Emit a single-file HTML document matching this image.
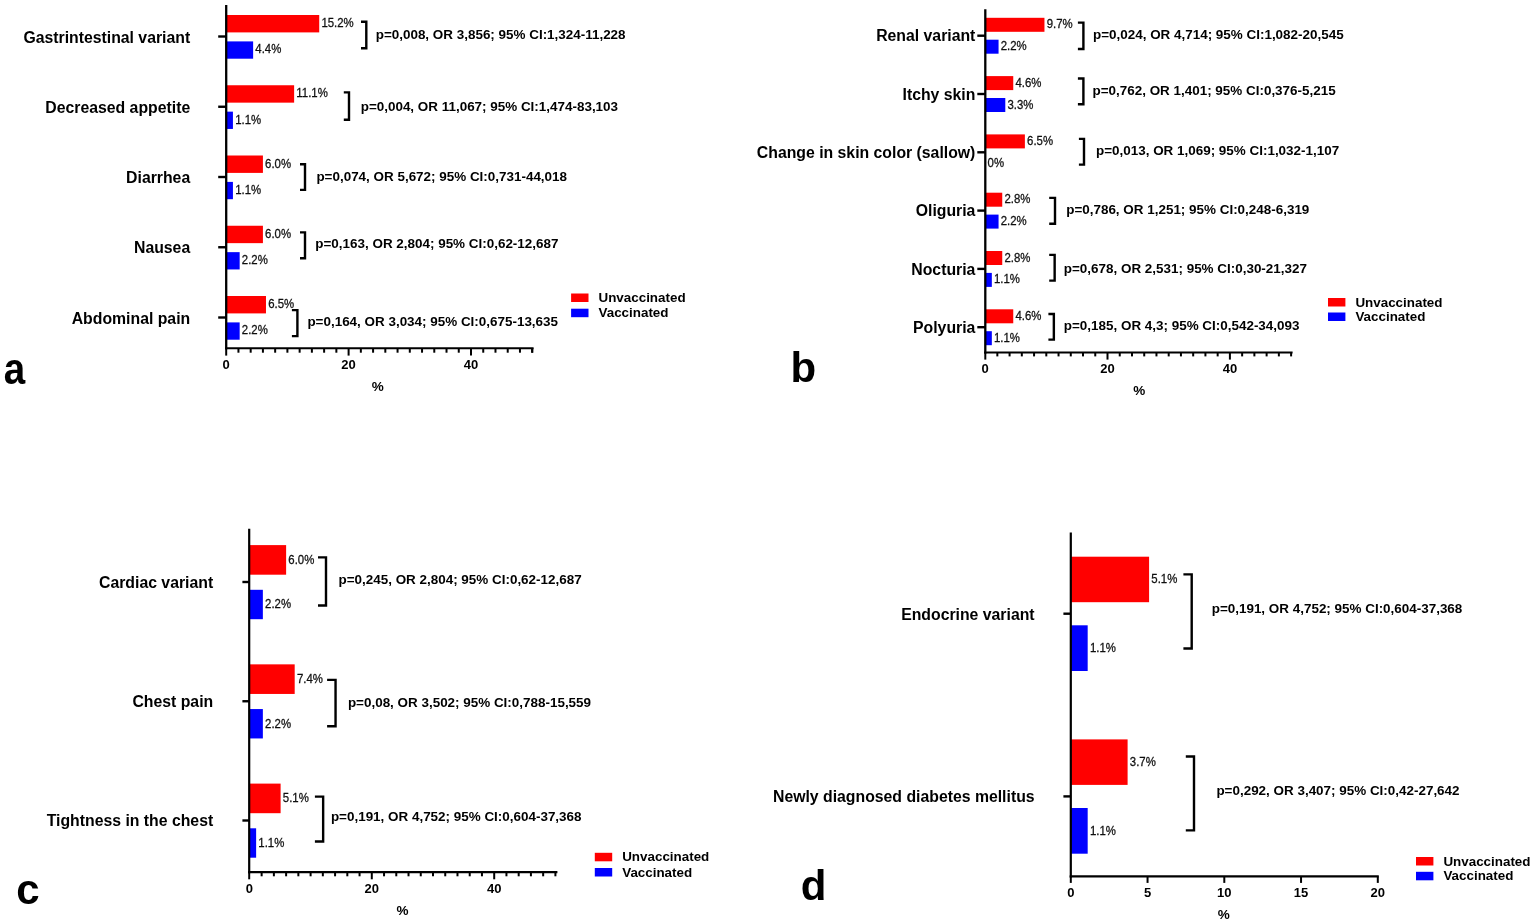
<!DOCTYPE html>
<html><head><meta charset="utf-8"><title>Figure</title>
<style>
html,body{margin:0;padding:0;background:#fff;}
svg{display:block;font-family:"Liberation Sans", Arial, sans-serif;}
</style></head><body>
<svg width="1535" height="924" viewBox="0 0 1535 924">
<rect width="1535" height="924" fill="#fff"/>
<rect x="226.20" y="15.00" width="93.02" height="17.40" fill="#ff0000"/>
<rect x="226.20" y="41.40" width="26.93" height="17.30" fill="#0000ff"/>
<text transform="translate(321.42,27.08) scale(1.0,1.04)" font-size="11.4" font-weight="normal" text-anchor="start" fill="#1a1a1a" stroke="#000" stroke-width="0.25">15.2%</text>
<text transform="translate(255.33,53.43) scale(1.0,1.04)" font-size="11.4" font-weight="normal" text-anchor="start" fill="#1a1a1a" stroke="#000" stroke-width="0.25">4.4%</text>
<text x="190.20" y="42.50" font-size="15.8" font-weight="bold" text-anchor="end" fill="#000">Gastrintestinal variant</text>
<line x1="218.20" y1="36.50" x2="226.20" y2="36.50" stroke="#000" stroke-width="2.4" stroke-linecap="butt"/>
<path d="M361.00,21.75 H366.30 V48.20 H361.00" fill="none" stroke="#000" stroke-width="2.4" stroke-linejoin="miter"/>
<text x="375.70" y="38.83" font-size="13.45" font-weight="bold" text-anchor="start" fill="#000">p=0,008, OR 3,856; 95% CI:1,324-11,228</text>
<rect x="226.20" y="85.25" width="67.93" height="17.40" fill="#ff0000"/>
<rect x="226.20" y="111.65" width="6.73" height="17.30" fill="#0000ff"/>
<text transform="translate(296.33,97.33) scale(1.0,1.04)" font-size="11.4" font-weight="normal" text-anchor="start" fill="#1a1a1a" stroke="#000" stroke-width="0.25">11.1%</text>
<text transform="translate(235.13,123.68) scale(1.0,1.04)" font-size="11.4" font-weight="normal" text-anchor="start" fill="#1a1a1a" stroke="#000" stroke-width="0.25">1.1%</text>
<text x="190.20" y="112.75" font-size="15.8" font-weight="bold" text-anchor="end" fill="#000">Decreased appetite</text>
<line x1="218.20" y1="106.75" x2="226.20" y2="106.75" stroke="#000" stroke-width="2.4" stroke-linecap="butt"/>
<path d="M343.80,92.40 H349.00 V119.70 H343.80" fill="none" stroke="#000" stroke-width="2.4" stroke-linejoin="miter"/>
<text x="360.70" y="110.83" font-size="13.45" font-weight="bold" text-anchor="start" fill="#000">p=0,004, OR 11,067; 95% CI:1,474-83,103</text>
<rect x="226.20" y="155.50" width="36.72" height="17.40" fill="#ff0000"/>
<rect x="226.20" y="181.90" width="6.73" height="17.30" fill="#0000ff"/>
<text transform="translate(265.12,167.58) scale(1.0,1.04)" font-size="11.4" font-weight="normal" text-anchor="start" fill="#1a1a1a" stroke="#000" stroke-width="0.25">6.0%</text>
<text transform="translate(235.13,193.93) scale(1.0,1.04)" font-size="11.4" font-weight="normal" text-anchor="start" fill="#1a1a1a" stroke="#000" stroke-width="0.25">1.1%</text>
<text x="190.20" y="183.00" font-size="15.8" font-weight="bold" text-anchor="end" fill="#000">Diarrhea</text>
<line x1="218.20" y1="177.00" x2="226.20" y2="177.00" stroke="#000" stroke-width="2.4" stroke-linecap="butt"/>
<path d="M300.00,164.30 H305.00 V189.90 H300.00" fill="none" stroke="#000" stroke-width="2.4" stroke-linejoin="miter"/>
<text x="316.40" y="181.03" font-size="13.45" font-weight="bold" text-anchor="start" fill="#000">p=0,074, OR 5,672; 95% CI:0,731-44,018</text>
<rect x="226.20" y="225.75" width="36.72" height="17.40" fill="#ff0000"/>
<rect x="226.20" y="252.15" width="13.46" height="17.30" fill="#0000ff"/>
<text transform="translate(265.12,237.83) scale(1.0,1.04)" font-size="11.4" font-weight="normal" text-anchor="start" fill="#1a1a1a" stroke="#000" stroke-width="0.25">6.0%</text>
<text transform="translate(241.86,264.18) scale(1.0,1.04)" font-size="11.4" font-weight="normal" text-anchor="start" fill="#1a1a1a" stroke="#000" stroke-width="0.25">2.2%</text>
<text x="190.20" y="253.25" font-size="15.8" font-weight="bold" text-anchor="end" fill="#000">Nausea</text>
<line x1="218.20" y1="247.25" x2="226.20" y2="247.25" stroke="#000" stroke-width="2.4" stroke-linecap="butt"/>
<path d="M300.00,232.40 H305.00 V258.30 H300.00" fill="none" stroke="#000" stroke-width="2.4" stroke-linejoin="miter"/>
<text x="315.30" y="248.33" font-size="13.45" font-weight="bold" text-anchor="start" fill="#000">p=0,163, OR 2,804; 95% CI:0,62-12,687</text>
<rect x="226.20" y="296.00" width="39.78" height="17.40" fill="#ff0000"/>
<rect x="226.20" y="322.40" width="13.46" height="17.30" fill="#0000ff"/>
<text transform="translate(268.18,308.08) scale(1.0,1.04)" font-size="11.4" font-weight="normal" text-anchor="start" fill="#1a1a1a" stroke="#000" stroke-width="0.25">6.5%</text>
<text transform="translate(241.86,334.43) scale(1.0,1.04)" font-size="11.4" font-weight="normal" text-anchor="start" fill="#1a1a1a" stroke="#000" stroke-width="0.25">2.2%</text>
<text x="190.20" y="323.50" font-size="15.8" font-weight="bold" text-anchor="end" fill="#000">Abdominal pain</text>
<line x1="218.20" y1="317.50" x2="226.20" y2="317.50" stroke="#000" stroke-width="2.4" stroke-linecap="butt"/>
<path d="M291.90,310.10 H297.40 V336.10 H291.90" fill="none" stroke="#000" stroke-width="2.4" stroke-linejoin="miter"/>
<text x="307.40" y="325.63" font-size="13.45" font-weight="bold" text-anchor="start" fill="#000">p=0,164, OR 3,034; 95% CI:0,675-13,635</text>
<line x1="226.20" y1="5.00" x2="226.20" y2="349.25" stroke="#000" stroke-width="2.3" stroke-linecap="butt"/>
<line x1="225.05" y1="348.20" x2="533.60" y2="348.20" stroke="#000" stroke-width="2.1" stroke-linecap="butt"/>
<line x1="226.20" y1="348.20" x2="226.20" y2="355.60" stroke="#000" stroke-width="2" stroke-linecap="butt"/>
<line x1="238.44" y1="348.20" x2="238.44" y2="352.70" stroke="#000" stroke-width="2" stroke-linecap="butt"/>
<line x1="250.68" y1="348.20" x2="250.68" y2="352.70" stroke="#000" stroke-width="2" stroke-linecap="butt"/>
<line x1="262.92" y1="348.20" x2="262.92" y2="352.70" stroke="#000" stroke-width="2" stroke-linecap="butt"/>
<line x1="275.16" y1="348.20" x2="275.16" y2="352.70" stroke="#000" stroke-width="2" stroke-linecap="butt"/>
<line x1="287.40" y1="348.20" x2="287.40" y2="352.70" stroke="#000" stroke-width="2" stroke-linecap="butt"/>
<line x1="299.64" y1="348.20" x2="299.64" y2="352.70" stroke="#000" stroke-width="2" stroke-linecap="butt"/>
<line x1="311.88" y1="348.20" x2="311.88" y2="352.70" stroke="#000" stroke-width="2" stroke-linecap="butt"/>
<line x1="324.12" y1="348.20" x2="324.12" y2="352.70" stroke="#000" stroke-width="2" stroke-linecap="butt"/>
<line x1="336.36" y1="348.20" x2="336.36" y2="352.70" stroke="#000" stroke-width="2" stroke-linecap="butt"/>
<line x1="348.60" y1="348.20" x2="348.60" y2="355.60" stroke="#000" stroke-width="2" stroke-linecap="butt"/>
<line x1="360.84" y1="348.20" x2="360.84" y2="352.70" stroke="#000" stroke-width="2" stroke-linecap="butt"/>
<line x1="373.08" y1="348.20" x2="373.08" y2="352.70" stroke="#000" stroke-width="2" stroke-linecap="butt"/>
<line x1="385.32" y1="348.20" x2="385.32" y2="352.70" stroke="#000" stroke-width="2" stroke-linecap="butt"/>
<line x1="397.56" y1="348.20" x2="397.56" y2="352.70" stroke="#000" stroke-width="2" stroke-linecap="butt"/>
<line x1="409.80" y1="348.20" x2="409.80" y2="352.70" stroke="#000" stroke-width="2" stroke-linecap="butt"/>
<line x1="422.04" y1="348.20" x2="422.04" y2="352.70" stroke="#000" stroke-width="2" stroke-linecap="butt"/>
<line x1="434.28" y1="348.20" x2="434.28" y2="352.70" stroke="#000" stroke-width="2" stroke-linecap="butt"/>
<line x1="446.52" y1="348.20" x2="446.52" y2="352.70" stroke="#000" stroke-width="2" stroke-linecap="butt"/>
<line x1="458.76" y1="348.20" x2="458.76" y2="352.70" stroke="#000" stroke-width="2" stroke-linecap="butt"/>
<line x1="471.00" y1="348.20" x2="471.00" y2="355.60" stroke="#000" stroke-width="2" stroke-linecap="butt"/>
<line x1="483.24" y1="348.20" x2="483.24" y2="352.70" stroke="#000" stroke-width="2" stroke-linecap="butt"/>
<line x1="495.48" y1="348.20" x2="495.48" y2="352.70" stroke="#000" stroke-width="2" stroke-linecap="butt"/>
<line x1="507.72" y1="348.20" x2="507.72" y2="352.70" stroke="#000" stroke-width="2" stroke-linecap="butt"/>
<line x1="519.96" y1="348.20" x2="519.96" y2="352.70" stroke="#000" stroke-width="2" stroke-linecap="butt"/>
<line x1="532.20" y1="348.20" x2="532.20" y2="352.70" stroke="#000" stroke-width="2" stroke-linecap="butt"/>
<line x1="532.20" y1="348.20" x2="532.20" y2="352.70" stroke="#000" stroke-width="2" stroke-linecap="butt"/>
<text x="226.20" y="368.80" font-size="13" font-weight="bold" text-anchor="middle" fill="#000">0</text>
<text x="348.60" y="368.80" font-size="13" font-weight="bold" text-anchor="middle" fill="#000">20</text>
<text x="471.00" y="368.80" font-size="13" font-weight="bold" text-anchor="middle" fill="#000">40</text>
<text x="377.80" y="390.60" font-size="13.5" font-weight="bold" text-anchor="middle" fill="#000">%</text>
<rect x="571.10" y="293.50" width="17.40" height="8.50" fill="#ff0000"/>
<rect x="571.10" y="308.70" width="17.40" height="8.50" fill="#0000ff"/>
<text x="598.50" y="302.00" font-size="13.4" font-weight="bold" text-anchor="start" fill="#000">Unvaccinated</text>
<text x="598.50" y="317.30" font-size="13.4" font-weight="bold" text-anchor="start" fill="#000">Vaccinated</text>
<text transform="translate(3.80,384.40) scale(0.88,1.0)" font-size="43.8" font-weight="bold" text-anchor="start" fill="#000">a</text>
<rect x="985.10" y="17.80" width="59.36" height="14.00" fill="#ff0000"/>
<rect x="985.10" y="39.70" width="13.46" height="14.00" fill="#0000ff"/>
<text transform="translate(1046.66,28.38) scale(1.0,1.04)" font-size="11.4" font-weight="normal" text-anchor="start" fill="#1a1a1a" stroke="#000" stroke-width="0.25">9.7%</text>
<text transform="translate(1000.76,50.28) scale(1.0,1.04)" font-size="11.4" font-weight="normal" text-anchor="start" fill="#1a1a1a" stroke="#000" stroke-width="0.25">2.2%</text>
<text x="975.40" y="41.30" font-size="15.8" font-weight="bold" text-anchor="end" fill="#000">Renal variant</text>
<line x1="977.30" y1="35.70" x2="985.30" y2="35.70" stroke="#000" stroke-width="2.4" stroke-linecap="butt"/>
<path d="M1077.90,22.60 H1083.40 V49.00 H1077.90" fill="none" stroke="#000" stroke-width="2.4" stroke-linejoin="miter"/>
<text x="1093.00" y="39.43" font-size="13.45" font-weight="bold" text-anchor="start" fill="#000">p=0,024, OR 4,714; 95% CI:1,082-20,545</text>
<rect x="985.10" y="76.10" width="28.15" height="14.00" fill="#ff0000"/>
<rect x="985.10" y="98.00" width="20.20" height="14.00" fill="#0000ff"/>
<text transform="translate(1015.45,86.68) scale(1.0,1.04)" font-size="11.4" font-weight="normal" text-anchor="start" fill="#1a1a1a" stroke="#000" stroke-width="0.25">4.6%</text>
<text transform="translate(1007.50,108.58) scale(1.0,1.04)" font-size="11.4" font-weight="normal" text-anchor="start" fill="#1a1a1a" stroke="#000" stroke-width="0.25">3.3%</text>
<text x="975.40" y="99.60" font-size="15.8" font-weight="bold" text-anchor="end" fill="#000">Itchy skin</text>
<line x1="977.30" y1="94.00" x2="985.30" y2="94.00" stroke="#000" stroke-width="2.4" stroke-linecap="butt"/>
<path d="M1077.90,78.50 H1083.40 V104.30 H1077.90" fill="none" stroke="#000" stroke-width="2.4" stroke-linejoin="miter"/>
<text x="1092.50" y="95.13" font-size="13.45" font-weight="bold" text-anchor="start" fill="#000">p=0,762, OR 1,401; 95% CI:0,376-5,215</text>
<rect x="985.10" y="134.40" width="39.78" height="14.00" fill="#ff0000"/>
<text transform="translate(1027.08,144.98) scale(1.0,1.04)" font-size="11.4" font-weight="normal" text-anchor="start" fill="#1a1a1a" stroke="#000" stroke-width="0.25">6.5%</text>
<text transform="translate(987.60,166.88) scale(1.0,1.04)" font-size="11.4" font-weight="normal" text-anchor="start" fill="#1a1a1a" stroke="#000" stroke-width="0.25">0%</text>
<text x="975.40" y="157.90" font-size="15.8" font-weight="bold" text-anchor="end" fill="#000">Change in skin color (sallow)</text>
<line x1="977.30" y1="152.30" x2="985.30" y2="152.30" stroke="#000" stroke-width="2.4" stroke-linecap="butt"/>
<path d="M1078.90,138.90 H1084.00 V164.60 H1078.90" fill="none" stroke="#000" stroke-width="2.4" stroke-linejoin="miter"/>
<text x="1096.00" y="155.03" font-size="13.45" font-weight="bold" text-anchor="start" fill="#000">p=0,013, OR 1,069; 95% CI:1,032-1,107</text>
<rect x="985.10" y="192.70" width="17.14" height="14.00" fill="#ff0000"/>
<rect x="985.10" y="214.60" width="13.46" height="14.00" fill="#0000ff"/>
<text transform="translate(1004.44,203.28) scale(1.0,1.04)" font-size="11.4" font-weight="normal" text-anchor="start" fill="#1a1a1a" stroke="#000" stroke-width="0.25">2.8%</text>
<text transform="translate(1000.76,225.18) scale(1.0,1.04)" font-size="11.4" font-weight="normal" text-anchor="start" fill="#1a1a1a" stroke="#000" stroke-width="0.25">2.2%</text>
<text x="975.40" y="216.20" font-size="15.8" font-weight="bold" text-anchor="end" fill="#000">Oliguria</text>
<line x1="977.30" y1="210.60" x2="985.30" y2="210.60" stroke="#000" stroke-width="2.4" stroke-linecap="butt"/>
<path d="M1049.20,197.90 H1055.00 V223.70 H1049.20" fill="none" stroke="#000" stroke-width="2.4" stroke-linejoin="miter"/>
<text x="1066.20" y="213.83" font-size="13.45" font-weight="bold" text-anchor="start" fill="#000">p=0,786, OR 1,251; 95% CI:0,248-6,319</text>
<rect x="985.10" y="251.00" width="17.14" height="14.00" fill="#ff0000"/>
<rect x="985.10" y="272.90" width="6.73" height="14.00" fill="#0000ff"/>
<text transform="translate(1004.44,261.58) scale(1.0,1.04)" font-size="11.4" font-weight="normal" text-anchor="start" fill="#1a1a1a" stroke="#000" stroke-width="0.25">2.8%</text>
<text transform="translate(994.03,283.48) scale(1.0,1.04)" font-size="11.4" font-weight="normal" text-anchor="start" fill="#1a1a1a" stroke="#000" stroke-width="0.25">1.1%</text>
<text x="975.40" y="274.50" font-size="15.8" font-weight="bold" text-anchor="end" fill="#000">Nocturia</text>
<line x1="977.30" y1="268.90" x2="985.30" y2="268.90" stroke="#000" stroke-width="2.4" stroke-linecap="butt"/>
<path d="M1049.20,254.90 H1054.65 V280.60 H1049.20" fill="none" stroke="#000" stroke-width="2.4" stroke-linejoin="miter"/>
<text x="1063.80" y="272.53" font-size="13.45" font-weight="bold" text-anchor="start" fill="#000">p=0,678, OR 2,531; 95% CI:0,30-21,327</text>
<rect x="985.10" y="309.30" width="28.15" height="14.00" fill="#ff0000"/>
<rect x="985.10" y="331.20" width="6.73" height="14.00" fill="#0000ff"/>
<text transform="translate(1015.45,319.88) scale(1.0,1.04)" font-size="11.4" font-weight="normal" text-anchor="start" fill="#1a1a1a" stroke="#000" stroke-width="0.25">4.6%</text>
<text transform="translate(994.03,341.78) scale(1.0,1.04)" font-size="11.4" font-weight="normal" text-anchor="start" fill="#1a1a1a" stroke="#000" stroke-width="0.25">1.1%</text>
<text x="975.40" y="332.80" font-size="15.8" font-weight="bold" text-anchor="end" fill="#000">Polyuria</text>
<line x1="977.30" y1="327.20" x2="985.30" y2="327.20" stroke="#000" stroke-width="2.4" stroke-linecap="butt"/>
<path d="M1048.40,314.00 H1053.85 V339.60 H1048.40" fill="none" stroke="#000" stroke-width="2.4" stroke-linejoin="miter"/>
<text x="1063.80" y="330.23" font-size="13.45" font-weight="bold" text-anchor="start" fill="#000">p=0,185, OR 4,3; 95% CI:0,542-34,093</text>
<line x1="985.30" y1="9.30" x2="985.30" y2="353.55" stroke="#000" stroke-width="2.3" stroke-linecap="butt"/>
<line x1="984.15" y1="352.50" x2="1292.60" y2="352.50" stroke="#000" stroke-width="2.1" stroke-linecap="butt"/>
<line x1="985.30" y1="352.50" x2="985.30" y2="359.60" stroke="#000" stroke-width="2" stroke-linecap="butt"/>
<line x1="997.34" y1="352.50" x2="997.34" y2="356.40" stroke="#000" stroke-width="2" stroke-linecap="butt"/>
<line x1="1009.58" y1="352.50" x2="1009.58" y2="356.40" stroke="#000" stroke-width="2" stroke-linecap="butt"/>
<line x1="1021.82" y1="352.50" x2="1021.82" y2="356.40" stroke="#000" stroke-width="2" stroke-linecap="butt"/>
<line x1="1034.06" y1="352.50" x2="1034.06" y2="356.40" stroke="#000" stroke-width="2" stroke-linecap="butt"/>
<line x1="1046.30" y1="352.50" x2="1046.30" y2="356.40" stroke="#000" stroke-width="2" stroke-linecap="butt"/>
<line x1="1058.54" y1="352.50" x2="1058.54" y2="356.40" stroke="#000" stroke-width="2" stroke-linecap="butt"/>
<line x1="1070.78" y1="352.50" x2="1070.78" y2="356.40" stroke="#000" stroke-width="2" stroke-linecap="butt"/>
<line x1="1083.02" y1="352.50" x2="1083.02" y2="356.40" stroke="#000" stroke-width="2" stroke-linecap="butt"/>
<line x1="1095.26" y1="352.50" x2="1095.26" y2="356.40" stroke="#000" stroke-width="2" stroke-linecap="butt"/>
<line x1="1107.50" y1="352.50" x2="1107.50" y2="359.60" stroke="#000" stroke-width="2" stroke-linecap="butt"/>
<line x1="1119.74" y1="352.50" x2="1119.74" y2="356.40" stroke="#000" stroke-width="2" stroke-linecap="butt"/>
<line x1="1131.98" y1="352.50" x2="1131.98" y2="356.40" stroke="#000" stroke-width="2" stroke-linecap="butt"/>
<line x1="1144.22" y1="352.50" x2="1144.22" y2="356.40" stroke="#000" stroke-width="2" stroke-linecap="butt"/>
<line x1="1156.46" y1="352.50" x2="1156.46" y2="356.40" stroke="#000" stroke-width="2" stroke-linecap="butt"/>
<line x1="1168.70" y1="352.50" x2="1168.70" y2="356.40" stroke="#000" stroke-width="2" stroke-linecap="butt"/>
<line x1="1180.94" y1="352.50" x2="1180.94" y2="356.40" stroke="#000" stroke-width="2" stroke-linecap="butt"/>
<line x1="1193.18" y1="352.50" x2="1193.18" y2="356.40" stroke="#000" stroke-width="2" stroke-linecap="butt"/>
<line x1="1205.42" y1="352.50" x2="1205.42" y2="356.40" stroke="#000" stroke-width="2" stroke-linecap="butt"/>
<line x1="1217.66" y1="352.50" x2="1217.66" y2="356.40" stroke="#000" stroke-width="2" stroke-linecap="butt"/>
<line x1="1229.90" y1="352.50" x2="1229.90" y2="359.60" stroke="#000" stroke-width="2" stroke-linecap="butt"/>
<line x1="1242.14" y1="352.50" x2="1242.14" y2="356.40" stroke="#000" stroke-width="2" stroke-linecap="butt"/>
<line x1="1254.38" y1="352.50" x2="1254.38" y2="356.40" stroke="#000" stroke-width="2" stroke-linecap="butt"/>
<line x1="1266.62" y1="352.50" x2="1266.62" y2="356.40" stroke="#000" stroke-width="2" stroke-linecap="butt"/>
<line x1="1278.86" y1="352.50" x2="1278.86" y2="356.40" stroke="#000" stroke-width="2" stroke-linecap="butt"/>
<line x1="1291.10" y1="352.50" x2="1291.10" y2="356.40" stroke="#000" stroke-width="2" stroke-linecap="butt"/>
<text x="985.10" y="373.30" font-size="13" font-weight="bold" text-anchor="middle" fill="#000">0</text>
<text x="1107.50" y="373.30" font-size="13" font-weight="bold" text-anchor="middle" fill="#000">20</text>
<text x="1229.90" y="373.30" font-size="13" font-weight="bold" text-anchor="middle" fill="#000">40</text>
<text x="1139.20" y="395.40" font-size="13.5" font-weight="bold" text-anchor="middle" fill="#000">%</text>
<rect x="1328.00" y="298.00" width="17.40" height="8.50" fill="#ff0000"/>
<rect x="1328.00" y="312.50" width="17.40" height="8.50" fill="#0000ff"/>
<text x="1355.40" y="306.50" font-size="13.4" font-weight="bold" text-anchor="start" fill="#000">Unvaccinated</text>
<text x="1355.40" y="321.10" font-size="13.4" font-weight="bold" text-anchor="start" fill="#000">Vaccinated</text>
<text x="790.50" y="381.90" font-size="42" font-weight="bold" text-anchor="start" fill="#000">b</text>
<rect x="249.40" y="545.10" width="36.72" height="29.60" fill="#ff0000"/>
<rect x="249.40" y="589.80" width="13.46" height="29.40" fill="#0000ff"/>
<text transform="translate(288.32,563.68) scale(1.0,1.04)" font-size="11.4" font-weight="normal" text-anchor="start" fill="#1a1a1a" stroke="#000" stroke-width="0.25">6.0%</text>
<text transform="translate(265.06,608.28) scale(1.0,1.04)" font-size="11.4" font-weight="normal" text-anchor="start" fill="#1a1a1a" stroke="#000" stroke-width="0.25">2.2%</text>
<text x="213.20" y="587.90" font-size="15.8" font-weight="bold" text-anchor="end" fill="#000">Cardiac variant</text>
<line x1="242.40" y1="582.00" x2="249.20" y2="582.00" stroke="#000" stroke-width="2.4" stroke-linecap="butt"/>
<path d="M318.00,557.40 H326.00 V605.50 H318.00" fill="none" stroke="#000" stroke-width="2.4" stroke-linejoin="miter"/>
<text x="338.50" y="584.43" font-size="13.45" font-weight="bold" text-anchor="start" fill="#000">p=0,245, OR 2,804; 95% CI:0,62-12,687</text>
<rect x="249.40" y="664.35" width="45.29" height="29.60" fill="#ff0000"/>
<rect x="249.40" y="709.05" width="13.46" height="29.40" fill="#0000ff"/>
<text transform="translate(296.89,682.93) scale(1.0,1.04)" font-size="11.4" font-weight="normal" text-anchor="start" fill="#1a1a1a" stroke="#000" stroke-width="0.25">7.4%</text>
<text transform="translate(265.06,727.53) scale(1.0,1.04)" font-size="11.4" font-weight="normal" text-anchor="start" fill="#1a1a1a" stroke="#000" stroke-width="0.25">2.2%</text>
<text x="213.20" y="707.15" font-size="15.8" font-weight="bold" text-anchor="end" fill="#000">Chest pain</text>
<line x1="242.40" y1="701.25" x2="249.20" y2="701.25" stroke="#000" stroke-width="2.4" stroke-linecap="butt"/>
<path d="M327.10,679.90 H335.55 V726.20 H327.10" fill="none" stroke="#000" stroke-width="2.4" stroke-linejoin="miter"/>
<text x="347.90" y="707.43" font-size="13.45" font-weight="bold" text-anchor="start" fill="#000">p=0,08, OR 3,502; 95% CI:0,788-15,559</text>
<rect x="249.40" y="783.60" width="31.21" height="29.60" fill="#ff0000"/>
<rect x="249.40" y="828.30" width="6.73" height="29.40" fill="#0000ff"/>
<text transform="translate(282.81,802.18) scale(1.0,1.04)" font-size="11.4" font-weight="normal" text-anchor="start" fill="#1a1a1a" stroke="#000" stroke-width="0.25">5.1%</text>
<text transform="translate(258.33,846.78) scale(1.0,1.04)" font-size="11.4" font-weight="normal" text-anchor="start" fill="#1a1a1a" stroke="#000" stroke-width="0.25">1.1%</text>
<text x="213.20" y="826.40" font-size="15.8" font-weight="bold" text-anchor="end" fill="#000">Tightness in the chest</text>
<line x1="242.40" y1="820.50" x2="249.20" y2="820.50" stroke="#000" stroke-width="2.4" stroke-linecap="butt"/>
<path d="M314.90,796.60 H323.15 V841.50 H314.90" fill="none" stroke="#000" stroke-width="2.4" stroke-linejoin="miter"/>
<text x="330.90" y="821.03" font-size="13.45" font-weight="bold" text-anchor="start" fill="#000">p=0,191, OR 4,752; 95% CI:0,604-37,368</text>
<line x1="249.20" y1="528.70" x2="249.20" y2="873.15" stroke="#000" stroke-width="2.2" stroke-linecap="butt"/>
<line x1="248.10" y1="872.10" x2="557.40" y2="872.10" stroke="#000" stroke-width="2.1" stroke-linecap="butt"/>
<line x1="249.20" y1="872.10" x2="249.20" y2="879.30" stroke="#000" stroke-width="2" stroke-linecap="butt"/>
<line x1="261.64" y1="872.10" x2="261.64" y2="876.30" stroke="#000" stroke-width="2" stroke-linecap="butt"/>
<line x1="273.88" y1="872.10" x2="273.88" y2="876.30" stroke="#000" stroke-width="2" stroke-linecap="butt"/>
<line x1="286.12" y1="872.10" x2="286.12" y2="876.30" stroke="#000" stroke-width="2" stroke-linecap="butt"/>
<line x1="298.36" y1="872.10" x2="298.36" y2="876.30" stroke="#000" stroke-width="2" stroke-linecap="butt"/>
<line x1="310.60" y1="872.10" x2="310.60" y2="876.30" stroke="#000" stroke-width="2" stroke-linecap="butt"/>
<line x1="322.84" y1="872.10" x2="322.84" y2="876.30" stroke="#000" stroke-width="2" stroke-linecap="butt"/>
<line x1="335.08" y1="872.10" x2="335.08" y2="876.30" stroke="#000" stroke-width="2" stroke-linecap="butt"/>
<line x1="347.32" y1="872.10" x2="347.32" y2="876.30" stroke="#000" stroke-width="2" stroke-linecap="butt"/>
<line x1="359.56" y1="872.10" x2="359.56" y2="876.30" stroke="#000" stroke-width="2" stroke-linecap="butt"/>
<line x1="371.80" y1="872.10" x2="371.80" y2="879.30" stroke="#000" stroke-width="2" stroke-linecap="butt"/>
<line x1="384.04" y1="872.10" x2="384.04" y2="876.30" stroke="#000" stroke-width="2" stroke-linecap="butt"/>
<line x1="396.28" y1="872.10" x2="396.28" y2="876.30" stroke="#000" stroke-width="2" stroke-linecap="butt"/>
<line x1="408.52" y1="872.10" x2="408.52" y2="876.30" stroke="#000" stroke-width="2" stroke-linecap="butt"/>
<line x1="420.76" y1="872.10" x2="420.76" y2="876.30" stroke="#000" stroke-width="2" stroke-linecap="butt"/>
<line x1="433.00" y1="872.10" x2="433.00" y2="876.30" stroke="#000" stroke-width="2" stroke-linecap="butt"/>
<line x1="445.24" y1="872.10" x2="445.24" y2="876.30" stroke="#000" stroke-width="2" stroke-linecap="butt"/>
<line x1="457.48" y1="872.10" x2="457.48" y2="876.30" stroke="#000" stroke-width="2" stroke-linecap="butt"/>
<line x1="469.72" y1="872.10" x2="469.72" y2="876.30" stroke="#000" stroke-width="2" stroke-linecap="butt"/>
<line x1="481.96" y1="872.10" x2="481.96" y2="876.30" stroke="#000" stroke-width="2" stroke-linecap="butt"/>
<line x1="494.20" y1="872.10" x2="494.20" y2="879.30" stroke="#000" stroke-width="2" stroke-linecap="butt"/>
<line x1="506.44" y1="872.10" x2="506.44" y2="876.30" stroke="#000" stroke-width="2" stroke-linecap="butt"/>
<line x1="518.68" y1="872.10" x2="518.68" y2="876.30" stroke="#000" stroke-width="2" stroke-linecap="butt"/>
<line x1="530.92" y1="872.10" x2="530.92" y2="876.30" stroke="#000" stroke-width="2" stroke-linecap="butt"/>
<line x1="543.16" y1="872.10" x2="543.16" y2="876.30" stroke="#000" stroke-width="2" stroke-linecap="butt"/>
<line x1="555.40" y1="872.10" x2="555.40" y2="876.30" stroke="#000" stroke-width="2" stroke-linecap="butt"/>
<text x="249.40" y="892.50" font-size="13" font-weight="bold" text-anchor="middle" fill="#000">0</text>
<text x="371.80" y="892.50" font-size="13" font-weight="bold" text-anchor="middle" fill="#000">20</text>
<text x="494.20" y="892.50" font-size="13" font-weight="bold" text-anchor="middle" fill="#000">40</text>
<text x="402.40" y="914.80" font-size="13.5" font-weight="bold" text-anchor="middle" fill="#000">%</text>
<rect x="594.80" y="852.80" width="17.40" height="8.50" fill="#ff0000"/>
<rect x="594.80" y="868.00" width="17.40" height="8.50" fill="#0000ff"/>
<text x="622.20" y="861.30" font-size="13.4" font-weight="bold" text-anchor="start" fill="#000">Unvaccinated</text>
<text x="622.20" y="876.60" font-size="13.4" font-weight="bold" text-anchor="start" fill="#000">Vaccinated</text>
<text x="16.20" y="904.20" font-size="42" font-weight="bold" text-anchor="start" fill="#000">c</text>
<rect x="1070.80" y="556.70" width="78.29" height="45.50" fill="#ff0000"/>
<rect x="1070.80" y="625.30" width="16.88" height="45.70" fill="#0000ff"/>
<text transform="translate(1151.29,583.23) scale(1.0,1.04)" font-size="11.4" font-weight="normal" text-anchor="start" fill="#1a1a1a" stroke="#000" stroke-width="0.25">5.1%</text>
<text transform="translate(1089.88,651.93) scale(1.0,1.04)" font-size="11.4" font-weight="normal" text-anchor="start" fill="#1a1a1a" stroke="#000" stroke-width="0.25">1.1%</text>
<text x="1034.60" y="619.60" font-size="15.8" font-weight="bold" text-anchor="end" fill="#000">Endocrine variant</text>
<line x1="1063.40" y1="613.70" x2="1070.80" y2="613.70" stroke="#000" stroke-width="2.4" stroke-linecap="butt"/>
<path d="M1183.40,574.40 H1191.70 V648.50 H1183.40" fill="none" stroke="#000" stroke-width="2.4" stroke-linejoin="miter"/>
<text x="1211.70" y="613.43" font-size="13.45" font-weight="bold" text-anchor="start" fill="#000">p=0,191, OR 4,752; 95% CI:0,604-37,368</text>
<rect x="1070.80" y="739.40" width="56.80" height="45.50" fill="#ff0000"/>
<rect x="1070.80" y="808.00" width="16.88" height="45.70" fill="#0000ff"/>
<text transform="translate(1129.80,765.93) scale(1.0,1.04)" font-size="11.4" font-weight="normal" text-anchor="start" fill="#1a1a1a" stroke="#000" stroke-width="0.25">3.7%</text>
<text transform="translate(1089.88,834.63) scale(1.0,1.04)" font-size="11.4" font-weight="normal" text-anchor="start" fill="#1a1a1a" stroke="#000" stroke-width="0.25">1.1%</text>
<text x="1034.60" y="802.30" font-size="15.8" font-weight="bold" text-anchor="end" fill="#000">Newly diagnosed diabetes mellitus</text>
<line x1="1063.40" y1="796.40" x2="1070.80" y2="796.40" stroke="#000" stroke-width="2.4" stroke-linecap="butt"/>
<path d="M1185.80,756.50 H1194.00 V830.40 H1185.80" fill="none" stroke="#000" stroke-width="2.4" stroke-linejoin="miter"/>
<text x="1216.40" y="795.43" font-size="13.45" font-weight="bold" text-anchor="start" fill="#000">p=0,292, OR 3,407; 95% CI:0,42-27,642</text>
<line x1="1070.80" y1="532.60" x2="1070.80" y2="877.50" stroke="#000" stroke-width="2.2" stroke-linecap="butt"/>
<line x1="1069.70" y1="876.40" x2="1378.80" y2="876.40" stroke="#000" stroke-width="2.2" stroke-linecap="butt"/>
<line x1="1070.80" y1="876.40" x2="1070.80" y2="882.90" stroke="#000" stroke-width="2" stroke-linecap="butt"/>
<line x1="1147.55" y1="876.40" x2="1147.55" y2="882.90" stroke="#000" stroke-width="2" stroke-linecap="butt"/>
<line x1="1224.30" y1="876.40" x2="1224.30" y2="882.90" stroke="#000" stroke-width="2" stroke-linecap="butt"/>
<line x1="1301.05" y1="876.40" x2="1301.05" y2="882.90" stroke="#000" stroke-width="2" stroke-linecap="butt"/>
<line x1="1377.80" y1="876.40" x2="1377.80" y2="882.90" stroke="#000" stroke-width="2" stroke-linecap="butt"/>
<text x="1070.80" y="896.80" font-size="13" font-weight="bold" text-anchor="middle" fill="#000">0</text>
<text x="1147.55" y="896.80" font-size="13" font-weight="bold" text-anchor="middle" fill="#000">5</text>
<text x="1224.30" y="896.80" font-size="13" font-weight="bold" text-anchor="middle" fill="#000">10</text>
<text x="1301.05" y="896.80" font-size="13" font-weight="bold" text-anchor="middle" fill="#000">15</text>
<text x="1377.80" y="896.80" font-size="13" font-weight="bold" text-anchor="middle" fill="#000">20</text>
<text x="1223.80" y="918.50" font-size="13.5" font-weight="bold" text-anchor="middle" fill="#000">%</text>
<rect x="1416.00" y="857.00" width="17.40" height="8.50" fill="#ff0000"/>
<rect x="1416.00" y="871.80" width="17.40" height="8.50" fill="#0000ff"/>
<text x="1443.40" y="865.50" font-size="13.4" font-weight="bold" text-anchor="start" fill="#000">Unvaccinated</text>
<text x="1443.40" y="880.40" font-size="13.4" font-weight="bold" text-anchor="start" fill="#000">Vaccinated</text>
<text x="800.80" y="899.70" font-size="42" font-weight="bold" text-anchor="start" fill="#000">d</text>
</svg>
</body></html>
